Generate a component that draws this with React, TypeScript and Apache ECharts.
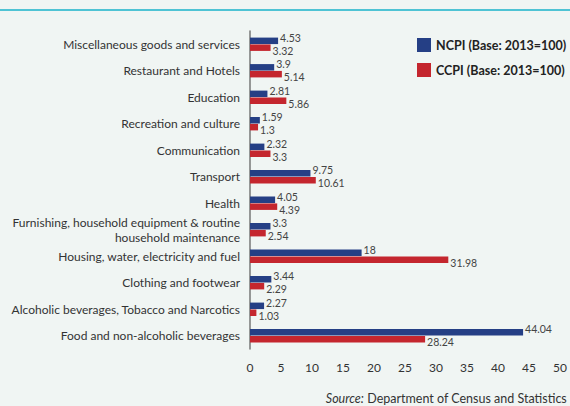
import React, { useEffect, useRef } from "react";
import * as echarts from "echarts";

const categories = [
  "Miscellaneous goods and services",
  "Restaurant and Hotels",
  "Education",
  "Recreation and culture",
  "Communication",
  "Transport",
  "Health",
  "Furnishing, household equipment & routine\nhousehold maintenance",
  "Housing, water, electricity and fuel",
  "Clothing and footwear",
  "Alcoholic beverages, Tobacco and Narcotics",
  "Food and non-alcoholic beverages",
];
const ncpi = [4.53, 3.9, 2.81, 1.59, 2.32, 9.75, 4.05, 3.3, 18, 3.44, 2.27, 44.04];
const ccpi = [3.32, 5.14, 5.86, 1.3, 3.3, 10.61, 4.39, 2.54, 31.98, 2.29, 1.03, 28.24];
const seriesNames = ["NCPI (Base: 2013=100)", "CCPI (Base: 2013=100)"];
const xTicks = { min: 0, max: 50, interval: 5 };

const FONT = "Lato, 'Noto Sans', sans-serif";

export default function App() {
  const ref = useRef<HTMLDivElement>(null);
  useEffect(() => {
    if (!ref.current) return;
    const chart = echarts.init(ref.current, undefined, { renderer: "svg" });
    chart.setOption({
      animation: false,
      backgroundColor: "#f0f5f3",
      textStyle: { fontFamily: FONT },
      graphic: [
        {
          type: "rect",
          shape: { x: 0, y: 9, width: 570, height: 2 },
          style: { fill: "#4fc3d4" },
        },
        {
          type: "text",
          right: 3,
          top: 392,
          style: {
            rich: {
              i: { fontStyle: "italic", fontSize: 12.5, fill: "#333", fontFamily: FONT },
              n: { fontSize: 12.5, fill: "#333", fontFamily: FONT },
            },
            text: "{i|Source:} {n|Department of Census and Statistics}",
          },
        },
      ],
      legend: {
        orient: "vertical",
        left: 412,
        top: 33,
        itemWidth: 14,
        itemHeight: 14,
        itemGap: 11,
        icon: "rect",
        textStyle: { fontSize: 12.5, color: "#222", fontWeight: "bold", fontFamily: FONT },
        data: seriesNames,
      },
      grid: { left: 250, right: 8, top: 31, bottom: 57 },
      xAxis: {
        type: "value",
        min: xTicks.min,
        max: xTicks.max,
        interval: xTicks.interval,
        axisLine: { show: false },
        axisTick: { show: false },
        splitLine: { show: false },
        axisLabel: { fontSize: 12, color: "#333", margin: 12, fontFamily: FONT },
      },
      yAxis: {
        type: "category",
        inverse: true,
        data: categories,
        axisLine: { show: true, lineStyle: { color: "#777", width: 1.5 } },
        axisTick: { show: false },
        axisLabel: {
          fontSize: 12,
          color: "#333",
          margin: 10,
          lineHeight: 15,
          align: "right",
          fontFamily: FONT,
        },
      },
      series: [
        {
          name: seriesNames[0],
          type: "bar",
          data: ncpi,
          barWidth: 6.5,
          barGap: "5%",
          itemStyle: { color: "#253f85" },
          label: {
            show: true,
            position: "right",
            distance: 2,
            offset: [0, -3],
            fontSize: 10.5,
            color: "#444",
            fontFamily: FONT,
          },
        },
        {
          name: seriesNames[1],
          type: "bar",
          data: ccpi,
          barWidth: 6.5,
          itemStyle: { color: "#c4262e" },
          label: {
            show: true,
            position: "right",
            distance: 2,
            offset: [0, 3],
            fontSize: 10.5,
            color: "#444",
            fontFamily: FONT,
          },
        },
      ],
    });
    return () => chart.dispose();
  }, []);
  return <div ref={ref} style={{ width: 570, height: 406, position: "fixed", left: 0, top: 0 }} />;
}
